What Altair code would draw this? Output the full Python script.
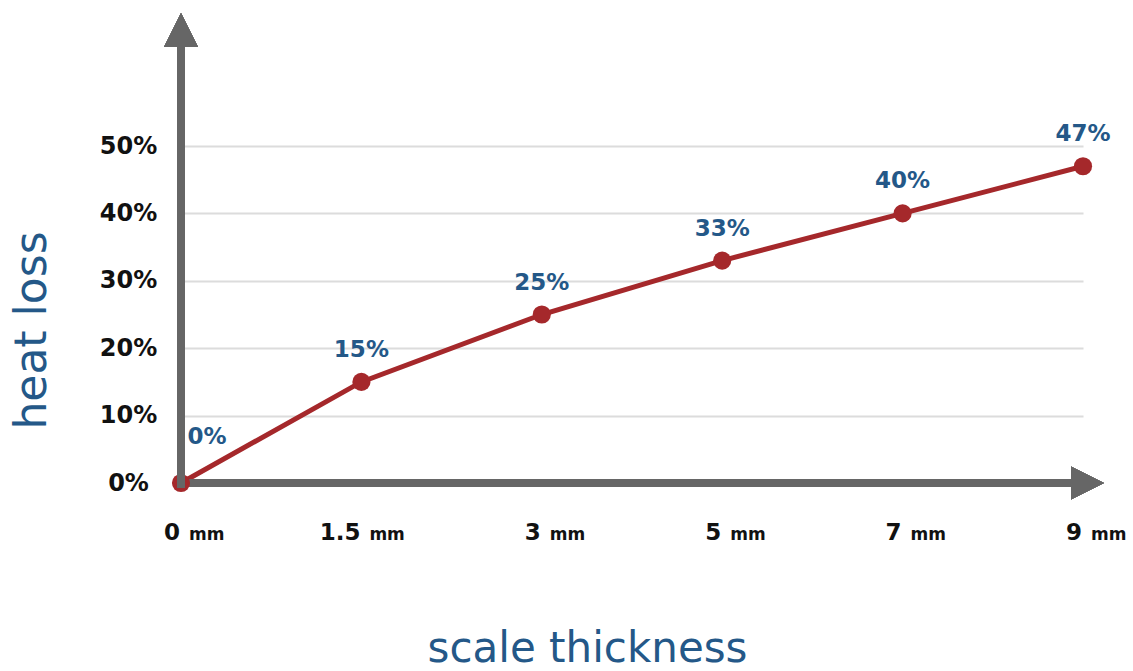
import altair as alt
import pandas as pd

# Heat loss through boiler scale of increasing thickness
thickness = ["0", "1.5", "3", "5", "7", "9"]
heat_loss = [0, 15, 25, 33, 40, 47]
y_ticks = [0, 10, 20, 30, 40, 50]

df = pd.DataFrame({
    "pos": list(range(len(thickness))),
    "thickness": thickness,
    "loss": heat_loss,
})
df["loss_label"] = df["loss"].astype(str) + "%"
df["unit"] = "mm"

RED = "#a5282b"
BLUE = "#245888"
GREY = "#666666"
FONT = "DejaVu Sans"

x_scale = alt.Scale(domain=[0, 5], nice=False, zero=False)
y_scale = alt.Scale(domain=[0, 50], nice=False)

x_axis = alt.Axis(
    title="scale thickness", labels=False, ticks=False, tickSize=0,
    domain=False, grid=False,
    titleFont=FONT, titleFontSize=42, titleFontWeight="normal",
    titleColor=BLUE, titleX=406, titleY=178,
    titleAlign="center", titleBaseline="alphabetic",
)
y_axis = alt.Axis(
    title="heat loss", values=y_ticks, labelExpr="datum.value + '%'",
    labelFont=FONT, labelFontSize=24, labelFontWeight="bold",
    labelColor="#111111", labelAlign="center", labelBaseline="middle",
    labelPadding=53, ticks=False, tickSize=0, domain=False,
    grid=True, gridColor="#dcdcdc", gridWidth=2,
    titleFont=FONT, titleFontSize=44, titleFontWeight="normal",
    titleColor=BLUE, titleAngle=270, titleX=-136, titleY=184,
    titleAlign="center", titleBaseline="alphabetic",
)

base = alt.Chart(df)

line = base.mark_line(color=RED, strokeWidth=5).encode(
    x=alt.X("pos:Q", scale=x_scale, axis=x_axis),
    y=alt.Y("loss:Q", scale=y_scale, axis=y_axis),
)

points = base.mark_circle(color=RED, size=330, opacity=1).encode(
    x=alt.X("pos:Q", scale=x_scale),
    y=alt.Y("loss:Q", scale=y_scale),
)


def qx(v):
    return alt.XDatum(datum=v, type="quantitative", scale=x_scale)


def qy(v):
    return alt.YDatum(datum=v, type="quantitative", scale=y_scale)


# Axis lines with arrowheads
x_line = alt.Chart(df).mark_rule(color=GREY, strokeWidth=8).encode(
    x=qx(-0.025), x2=alt.X2Datum(datum=4.96), y=qy(0)
)
y_line = alt.Chart(df).mark_rule(color=GREY, strokeWidth=8).encode(
    x=qx(0), y=qy(-0.7), y2=alt.Y2Datum(datum=64.7)
)
up_arrow = alt.Chart(df).mark_point(
    shape="M0,-1L1,1L-1,1Z", filled=True, size=1156, color=GREY,
    opacity=1, strokeWidth=0,
).encode(x=qx(0), y=qy(67.2))
right_arrow = alt.Chart(df).mark_point(
    shape="M-1,-1L1,0L-1,1Z", filled=True, size=1089, color=GREY,
    opacity=1, strokeWidth=0,
).encode(x=qx(5.025), y=qy(0))

# Value labels above the points
value_text = dict(font=FONT, fontSize=23, fontWeight="bold", color=BLUE,
                  baseline="middle", align="center")
labels = base.transform_filter("datum.pos > 0").mark_text(
    dy=-32, **value_text
).encode(
    x=alt.X("pos:Q", scale=x_scale),
    y=alt.Y("loss:Q", scale=y_scale),
    text="loss_label:N",
)
origin_label = base.transform_filter("datum.pos == 0").mark_text(
    dx=26, dy=-46, **value_text
).encode(
    x=alt.X("pos:Q", scale=x_scale),
    y=alt.Y("loss:Q", scale=y_scale),
    text="loss_label:N",
)

# Category labels under the horizontal axis: number plus unit
tick_num = base.mark_text(
    font=FONT, fontSize=23, fontWeight="bold", color="#111111",
    align="right", baseline="alphabetic", dx=-1,
).encode(
    x=alt.X("pos:Q", scale=x_scale),
    y=qy(-8.5),
    text="thickness:N",
)
tick_unit = base.mark_text(
    font=FONT, fontSize=17, fontWeight="bold", color="#111111",
    align="left", baseline="alphabetic", dx=8,
).encode(
    x=alt.X("pos:Q", scale=x_scale),
    y=qy(-8.5),
    text="unit:N",
)

chart = alt.layer(
    line, x_line, points, y_line, up_arrow, right_arrow,
    labels, origin_label, tick_num, tick_unit,
).properties(
    width=902, height=337,
    autosize=alt.AutoSizeParams(type="none"),
    padding={"left": 181, "top": 146, "right": 50, "bottom": 188},
    background="white",
).configure_view(stroke=None)

chart.save("out.html", embed_options={"renderer": "svg", "actions": False})
